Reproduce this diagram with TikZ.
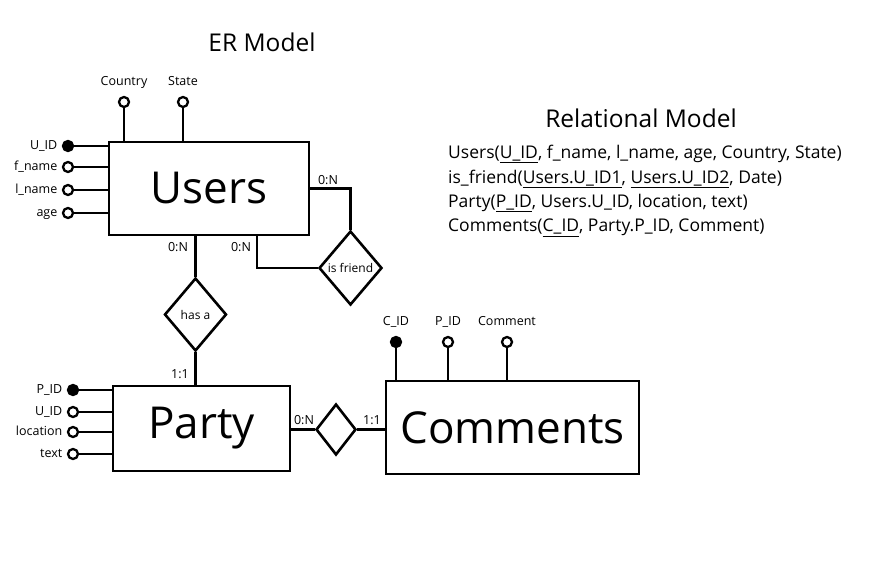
\documentclass[tikz,border=0pt]{standalone}
\usepackage{fontspec}
\setmainfont{Open Sans}
\usetikzlibrary{shapes.geometric}

\tikzset{
  entity/.style={draw, line width=2.6pt, inner sep=0pt, font=\fontsize{44}{50}\selectfont},
  relation/.style={draw, diamond, line width=2.6pt, inner sep=0pt, font=\fontsize{12}{14}\selectfont},
  attr/.style={draw, circle, line width=2.3pt, fill=white, minimum size=10pt, inner sep=0pt},
  keyattr/.style={attr, fill=black},
  link/.style={line width=2.6pt},
  small/.style={font=\fontsize{12.5}{14}\selectfont, text height=9pt, text depth=2.5pt},
  title/.style={font=\fontsize{24.5}{28}\selectfont},
  schema/.style={anchor=west, inner sep=0pt, font=\fontsize{17.5}{20}\selectfont},
}

\begin{document}
\begin{tikzpicture}[x=1pt, y=-1pt]
    \useasboundingbox (0,0) rectangle (878,564);

    % titles
    \node[title] (ertitle) at (262,42) {ER Model};
    \node[title] (reltitle) at (641,118) {Relational Model};

    % entities
    \node[entity, minimum width=200pt, minimum height=93pt] (users) at (209,188.5) {Users};
    \node[entity, minimum width=177pt, minimum height=85pt] (party) at (201.5,428.5) {Party};
    \node[entity, minimum width=253pt, minimum height=93pt] (comments) at (512.5,427.5) {Comments};

    % relationships
    \node[relation, minimum width=63pt, minimum height=74pt] (isfriend) at (350.5,268) {is friend};
    \node[relation, minimum width=62pt, minimum height=73pt] (hasa) at (195.5,314.5) {has a};
    \node[relation, minimum width=40pt, minimum height=51pt] (writes) at (336,429.5) {};

    % Users attributes
    \node[keyattr, label={[small, label distance=1pt]left:U\_ID}] (uid) at (68,146) {};
    \node[attr, label={[small, label distance=1pt]left:f\_name}] (fname) at (68,167) {};
    \node[attr, label={[small, label distance=1pt]left:l\_name}] (lname) at (68,190) {};
    \node[attr, label={[small, label distance=1pt]left:age}] (age) at (68,213) {};
    \node[attr, label={[small, label distance=4pt]above:Country}] (country) at (124,102) {};
    \node[attr, label={[small, label distance=4pt]above:State}] (state) at (183,102) {};
    \foreach \a in {uid,fname,lname,age}
        \draw[link] (\a) -- (\a -| users.west);
    \foreach \a in {country,state}
        \draw[link] (\a) -- (\a |- users.north);

    % Party attributes
    \node[keyattr, label={[small, label distance=1pt]left:P\_ID}] (pid) at (73,390) {};
    \node[attr, label={[small, label distance=1pt]left:U\_ID}] (puid) at (73,412) {};
    \node[attr, label={[small, label distance=1pt]left:location}] (location) at (73,432) {};
    \node[attr, label={[small, label distance=1pt]left:text}] (text) at (73,454) {};
    \foreach \a in {pid,puid,location,text}
        \draw[link] (\a) -- (\a -| party.west);

    % Comments attributes
    \node[keyattr, label={[small, label distance=4pt]above:C\_ID}] (cid) at (396,342) {};
    \node[attr, label={[small, label distance=4pt]above:P\_ID}] (cpid) at (448,342) {};
    \node[attr, label={[small, label distance=4pt]above:Comment}] (comment) at (507,342) {};
    \foreach \a in {cid,cpid,comment}
        \draw[link] (\a) -- (\a |- comments.north);

    % connections
    \coordinate (ufriend) at ([xshift=48pt]users.south);
    \draw[link] (users.east) -| (isfriend.north);
    \draw[link] (ufriend) |- (isfriend.west);
    \draw[link] (hasa.north) -- (hasa.north |- users.south);
    \draw[link] (hasa.south) -- (hasa.south |- party.north);
    \draw[link] (writes.west) -- (writes.west -| party.east);
    \draw[link] (writes.east) -- (writes.east -| comments.west);

    % cardinalities
    \node[small] (c1) at (328,181) {0:N};
    \node[small] (c2) at (178,248) {0:N};
    \node[small] (c3) at (241,248) {0:N};
    \node[small] (c4) at (180,375) {1:1};
    \node[small] (c5) at (304,421) {0:N};
    \node[small] (c6) at (372,421) {1:1};

    % relational model
    \node[schema] (rusers) at (448,154) {Users(\underline{U\_ID}, f\_name, l\_name, age, Country, State)};
    \node[schema] (rfriend) at (448,179) {is\_friend(\underline{Users.U\_ID1}, \underline{Users.U\_ID2}, Date)};
    \node[schema] (rparty) at (448,203) {Party(\underline{P\_ID}, Users.U\_ID, location, text)};
    \node[schema] (rcomments) at (448,228) {Comments(\underline{C\_ID}, Party.P\_ID, Comment)};
\end{tikzpicture}
\end{document}
